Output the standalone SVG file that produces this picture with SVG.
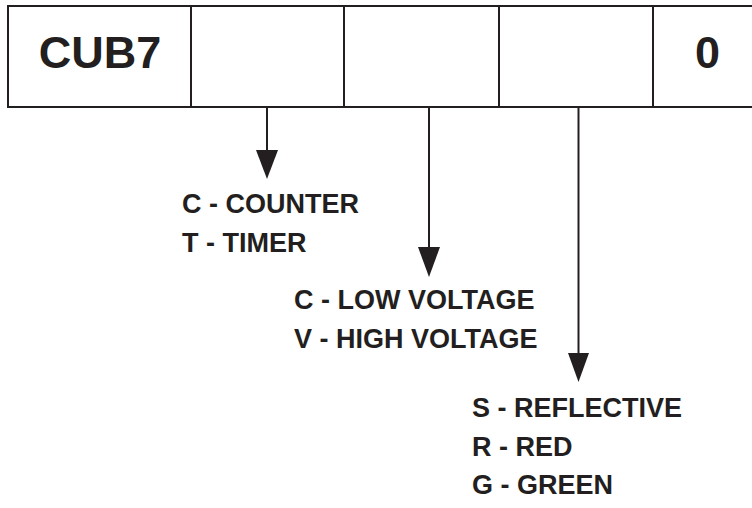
<svg xmlns="http://www.w3.org/2000/svg" width="752" height="508" viewBox="0 0 752 508">
<style>
.ln{stroke:#231f20;stroke-width:2;fill:none}
.hd{fill:#231f20;stroke:none}
.big{font-family:"Liberation Sans",Arial,sans-serif;font-weight:bold;font-size:45px;fill:#231f20;text-anchor:middle}
.lbl{font-family:"Liberation Sans",Arial,sans-serif;font-weight:bold;font-size:27px;fill:#231f20}
</style>
<rect width="752" height="508" fill="#ffffff"/>
<g id="code-box">
<rect class="ln" x="8" y="6" width="760" height="101"/>
<line class="ln" x1="191" y1="6" x2="191" y2="107"/>
<line class="ln" x1="344" y1="6" x2="344" y2="107"/>
<line class="ln" x1="499" y1="6" x2="499" y2="107"/>
<line class="ln" x1="653" y1="6" x2="653" y2="107"/>
<text class="big" x="100" y="68">CUB7</text>
<text class="big" x="707.5" y="68">0</text>
</g>
<g id="connectors">
<line class="ln" x1="267" y1="107" x2="267" y2="152"/>
<polygon class="hd" points="256,150 278,150 267,179"/>
<line class="ln" x1="429" y1="107" x2="429" y2="249"/>
<polygon class="hd" points="418,247 440,247 429,277"/>
<line class="ln" x1="578.5" y1="107" x2="578.5" y2="355"/>
<polygon class="hd" points="568,353 589,353 578.5,382"/>
</g>
<g id="mode-options">
<text class="lbl" x="182" y="213">C - COUNTER</text>
<text class="lbl" x="182" y="252">T - TIMER</text>
</g>
<g id="voltage-options">
<text class="lbl" x="294" y="309">C - LOW VOLTAGE</text>
<text class="lbl" x="294" y="348">V - HIGH VOLTAGE</text>
</g>
<g id="sensor-options">
<text class="lbl" x="472" y="417">S - REFLECTIVE</text>
<text class="lbl" x="472" y="456">R - RED</text>
<text class="lbl" x="472" y="494">G - GREEN</text>
</g>
</svg>
